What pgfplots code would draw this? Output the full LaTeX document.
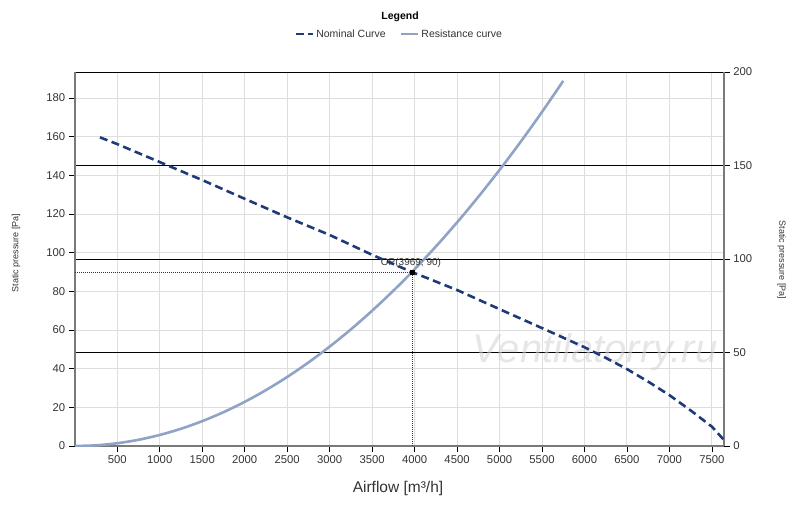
\documentclass[border=0pt]{standalone}
\usepackage{fontspec}
\setmainfont{Liberation Sans}
\usepackage{pgfplots}
\pgfplotsset{compat=1.18}

\definecolor{navy}{HTML}{1F3A78}
\definecolor{resist}{HTML}{8FA3C6}
\definecolor{gridgray}{HTML}{DEDEDE}
\definecolor{axgray}{HTML}{7A7A7A}
\definecolor{txt}{HTML}{333333}

\pgfplotstableread{
x y
296 159.7
500 156.2
1000 146.9
1500 137.6
2000 127.9
2500 118.3
3000 109.2
3500 98.9
3969 90.0
4500 80.7
5000 70.8
5500 61.0
6000 51.1
6250 45.6
6500 39.8
6750 33.3
7000 26.3
7250 18.4
7500 10.0
7640 3.2
}\nominal

\pgfplotstableread{
x y
0 0
250 0.357
500 1.428
750 3.214
1000 5.713
1250 8.927
1500 12.855
1750 17.497
2000 22.853
2250 28.924
2500 35.708
2750 43.207
3000 51.420
3250 60.347
3500 69.988
3750 80.343
3969 90.0
4250 103.197
4500 115.690
4750 128.906
5000 142.830
5250 157.470
5500 172.830
5750 188.900
}\resistance

\begin{document}
\begin{tikzpicture}[x=1pt,y=1pt]
\useasboundingbox (0,0) rectangle (800,507);
\pgfplotsset{
  base/.style={
    scale only axis, width=649pt, height=374pt,
    at={(74.8pt,61pt)}, anchor=south west,
    xmin=0, xmax=7640,
    scaled ticks=false,
    /pgf/number format/assume math mode=true,
    /pgf/number format/1000 sep={},
    tick label style={font=\fontsize{11.3}{13}\selectfont, text=txt},
    tick align=outside,
    major tick length=6pt,
    tick style={black, line width=0.8pt},
  }
}
% left axis: gray grid, ticks, labels
\begin{axis}[base,
  ymin=0, ymax=193.5,
  xtick={500,1000,...,7500},
  ytick={0,20,...,180},
  xmajorgrids, ymajorgrids,
  grid style={gridgray, line width=1pt},
  axis x line*=bottom, axis y line*=left,
  axis line style={draw=none},
]
\end{axis}
% right axis: black grid lines
\begin{axis}[base,
  ymin=0, ymax=200,
  ytick={0,50,...,200},
  xtick=\empty,
  axis x line=none,
  axis y line*=right,
  ymajorgrids,
  grid style={black, line width=0.7pt},
  axis line style={axgray, line width=1.6pt, -},
]
\end{axis}
% watermark
\node[font=\fontsize{40}{44}\selectfont\itshape, text=gray!35, opacity=0.55] at (595,155) {Ventilatorry.ru};
% curves
\begin{axis}[base,
  ymin=0, ymax=193.5,
  xtick=\empty, ytick=\empty,
  axis x line*=bottom, axis y line*=left,
  axis line style={axgray, line width=1.6pt, -},
  legend style={at={(0.5,1.1016)}, anchor=center, draw=none, fill=none,
    font=\fontsize{10.5}{12}\selectfont, text=txt,
    /tikz/every even column/.append style={column sep=12pt}},
  legend columns=2,
]
\addplot[navy, line width=2.6pt, dash pattern=on 8pt off 4.5pt] table[x=x,y=y] {\nominal};
\addlegendentry{Nominal Curve}
\addplot[resist, line width=2.6pt, smooth] table[x=x,y=y] {\resistance};
\addlegendentry{Resistance curve}
\addplot[txt, line width=0.8pt, dash pattern=on 1pt off 1pt, forget plot] coordinates {(0,90) (3969,90) (3969,0)};
\addplot[black, only marks, mark=square*, mark size=2pt, forget plot] coordinates {(3969,90)};
\node[anchor=base, yshift=6.5pt, xshift=-1pt, font=\fontsize{10}{12}\selectfont, text=txt] at (axis cs:3969,90) {OP(3969; 90)};
\end{axis}
% labels
\node[font=\bfseries\fontsize{10.5}{12}\selectfont] at (400,490) {Legend};
\node[font=\fontsize{15.5}{18}\selectfont, text=txt] at (398,19) {Airflow [m³/h]};
\node[font=\fontsize{9}{11}\selectfont, text=txt, rotate=90] at (16,254) {Static pressure [Pa]};
\node[font=\fontsize{9}{11}\selectfont, text=txt, rotate=-90] at (781.7,247) {Static pressure [Pa]};
\end{tikzpicture}
\end{document}
